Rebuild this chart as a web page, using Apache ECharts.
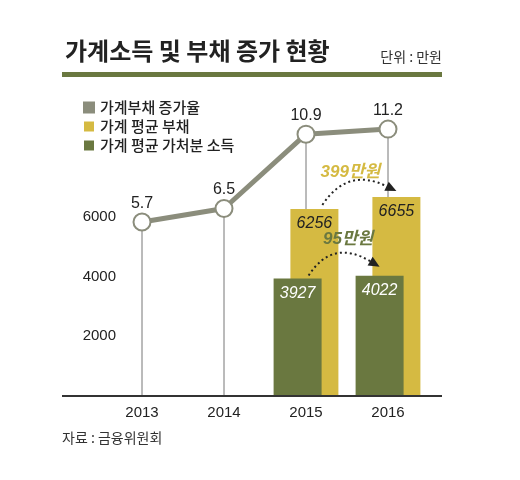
<!DOCTYPE html>
<html>
<head>
<meta charset="utf-8">
<script src="https://cdn.jsdelivr.net/npm/echarts@6/dist/echarts.min.js"></script>
<style>
  html, body { margin: 0; padding: 0; background: #fff; }
  #chart { width: 520px; height: 480px; }
</style>
</head>
<body>
<div id="chart"></div>
<script>
// 데이터
var years = ['2013', '2014', '2015', '2016'];
var debtRate = [5.7, 6.5, 10.9, 11.2];          // 가계부채 증가율 (%)
var avgDebt = [null, null, 6256, 6655];         // 가계 평균 부채 (만원)
var avgIncome = [null, null, 3927, 4022];       // 가계 평균 가처분 소득 (만원)
var yTicks = [2000, 4000, 6000];

var GRAY = '#8b8d7c';
var YELLOW = '#d5ba42';
var OLIVE = '#6a7840';
var FONT = "'Liberation Sans', 'Noto Sans CJK KR', sans-serif";
var KFONT = "'Noto Sans CJK KR', sans-serif";

var rateMin = -4.6, rateMax = 13.1;

var chart = echarts.init(document.getElementById('chart'));

var option = {
  animation: false,
  title: {
    text: '가계소득 및 부채 증가 현황',
    left: 60, top: 34,
    textStyle: { fontFamily: KFONT, fontSize: 24, fontWeight: 'bold', color: '#222' }
  },
  legend: {
    orient: 'vertical',
    left: 78, top: 95,
    icon: 'rect',
    itemWidth: 10, itemHeight: 10, itemGap: 4,
    textStyle: { fontFamily: KFONT, fontSize: 15, fontWeight: 500, color: '#222', padding: [0, 0, 0, 1] },
    data: [
      { name: '가계부채 증가율', itemStyle: { color: GRAY } },
      { name: '가계 평균 부채', itemStyle: { color: YELLOW } },
      { name: '가계 평균 가처분 소득', itemStyle: { color: OLIVE } }
    ]
  },
  grid: { left: 101, right: 91, top: 97, bottom: 84 },
  xAxis: {
    type: 'category',
    data: years,
    axisLine: { show: false },
    axisTick: { show: false },
    axisLabel: { fontFamily: FONT, fontSize: 15, color: '#222', margin: 9 }
  },
  yAxis: [{
    type: 'value',
    min: 0, max: 10000, interval: 2000,
    splitLine: { show: false },
    axisLine: { show: false },
    axisTick: { show: false },
    axisLabel: {
      fontFamily: FONT, fontSize: 15, color: '#222', margin: -15,
      formatter: function (v) { return yTicks.indexOf(v) >= 0 ? String(v) : ''; }
    }
  }, {
    type: 'value',
    min: rateMin, max: rateMax,
    show: false
  }],
  series: [{
    // 세로 보조선
    type: 'custom',
    yAxisIndex: 1,
    z: 1,
    silent: true,
    data: debtRate.map(function (v, i) { return [i, v]; }),
    renderItem: function (params, api) {
      var top = api.coord([api.value(0), api.value(1)]);
      var bottom = api.coord([api.value(0), rateMin]);
      return {
        type: 'line',
        shape: { x1: top[0], y1: top[1], x2: bottom[0], y2: bottom[1] },
        style: { stroke: '#777', lineWidth: 1 }
      };
    }
  }, {
    name: '가계 평균 가처분 소득',
    type: 'bar',
    z: 4,
    data: avgIncome,
    barWidth: 48,
    barGap: '-65%',
    itemStyle: { color: OLIVE },
    label: {
      show: true, position: 'insideTop', distance: 7,
      fontFamily: FONT, fontSize: 16, fontStyle: 'italic', color: '#fff'
    }
  }, {
    name: '가계 평균 부채',
    type: 'bar',
    z: 3,
    data: avgDebt,
    barWidth: 48,
    itemStyle: { color: YELLOW },
    label: {
      show: true, position: 'insideTop', distance: 7,
      fontFamily: FONT, fontSize: 16, fontStyle: 'italic', color: '#222'
    }
  }, {
    name: '가계부채 증가율',
    type: 'line',
    yAxisIndex: 1,
    z: 6,
    clip: false,
    data: debtRate,
    symbol: 'circle',
    symbolSize: 17,
    lineStyle: { color: GRAY, width: 5 },
    itemStyle: { color: '#fff', borderColor: GRAY, borderWidth: 2 },
    label: {
      show: true, position: 'top', distance: 1,
      fontFamily: FONT, fontSize: 16, color: '#222'
    }
  }]
};

chart.setOption(option);

// 증가분 화살표
function arrow(p0, p1, ctrl, color, text, textColor, textPos) {
  var ang = Math.atan2(p1[1] - ctrl[1], p1[0] - ctrl[0]);
  var len = 11, wid = 5;
  var bx = p1[0] - len * Math.cos(ang), by = p1[1] - len * Math.sin(ang);
  var nx = -Math.sin(ang) * wid, ny = Math.cos(ang) * wid;
  return [{
    type: 'bezierCurve', z: 20,
    shape: { x1: p0[0], y1: p0[1], x2: bx, y2: by, cpx1: ctrl[0], cpy1: ctrl[1] },
    style: { stroke: color, lineWidth: 2, lineDash: [2, 3], fill: null }
  }, {
    type: 'polygon', z: 20,
    shape: { points: [[p1[0], p1[1]], [bx + nx, by + ny], [bx - nx, by - ny]] },
    style: { fill: color }
  }, {
    type: 'text', z: 20,
    x: textPos[0], y: textPos[1],
    style: {
      text: text, fill: textColor, align: 'center', verticalAlign: 'middle',
      font: 'italic bold 17px ' + FONT
    }
  }];
}

var dTop15 = chart.convertToPixel({ seriesIndex: 2 }, [2, avgDebt[2]]);
var dTop16 = chart.convertToPixel({ seriesIndex: 2 }, [3, avgDebt[3]]);
var iTop15 = chart.convertToPixel({ seriesIndex: 1 }, [2, avgIncome[2]]);
var iTop16 = chart.convertToPixel({ seriesIndex: 1 }, [3, avgIncome[3]]);
var shift = 8.4;

var a1s = [dTop15[0] + shift + 8, dTop15[1] - 4];
var a1e = [dTop16[0] + shift, dTop16[1] - 6];
var a1c = [(a1s[0] + a1e[0]) / 2 - 12, Math.min(a1s[1], a1e[1]) - 24];
var a2s = [iTop15[0] - shift + 11, iTop15[1] - 3];
var a2e = [iTop16[0] - shift, iTop16[1] - 9];
var a2c = [(a2s[0] + a2e[0]) / 2 - 12, Math.min(a2s[1], a2e[1]) - 28];

var graphics = [{
  type: 'rect', shape: { x: 62, y: 72, width: 380, height: 5 }, style: { fill: OLIVE }
}, {
  type: 'text', x: 442, y: 57,
  style: { text: '단위 : 만원', align: 'right', verticalAlign: 'middle', fill: '#333', font: '14px ' + KFONT }
}, {
  type: 'line', z: 10, shape: { x1: 62, y1: 396, x2: 442, y2: 396 }, style: { stroke: '#333', lineWidth: 2 }
}, {
  type: 'text', x: 62, y: 438,
  style: { text: '자료 : 금융위원회', verticalAlign: 'middle', fill: '#333', font: '14px ' + KFONT }
}];

graphics = graphics
  .concat(arrow(a1s, a1e, a1c, '#222', (avgDebt[3] - avgDebt[2]) + '만원', YELLOW, [a1c[0] + 3, a1c[1] + 5]))
  .concat(arrow(a2s, a2e, a2c, '#222', (avgIncome[3] - avgIncome[2]) + '만원', OLIVE, [a2c[0] + 16, a2c[1] + 1]));

chart.setOption({ graphic: graphics });
</script>
</body>
</html>
